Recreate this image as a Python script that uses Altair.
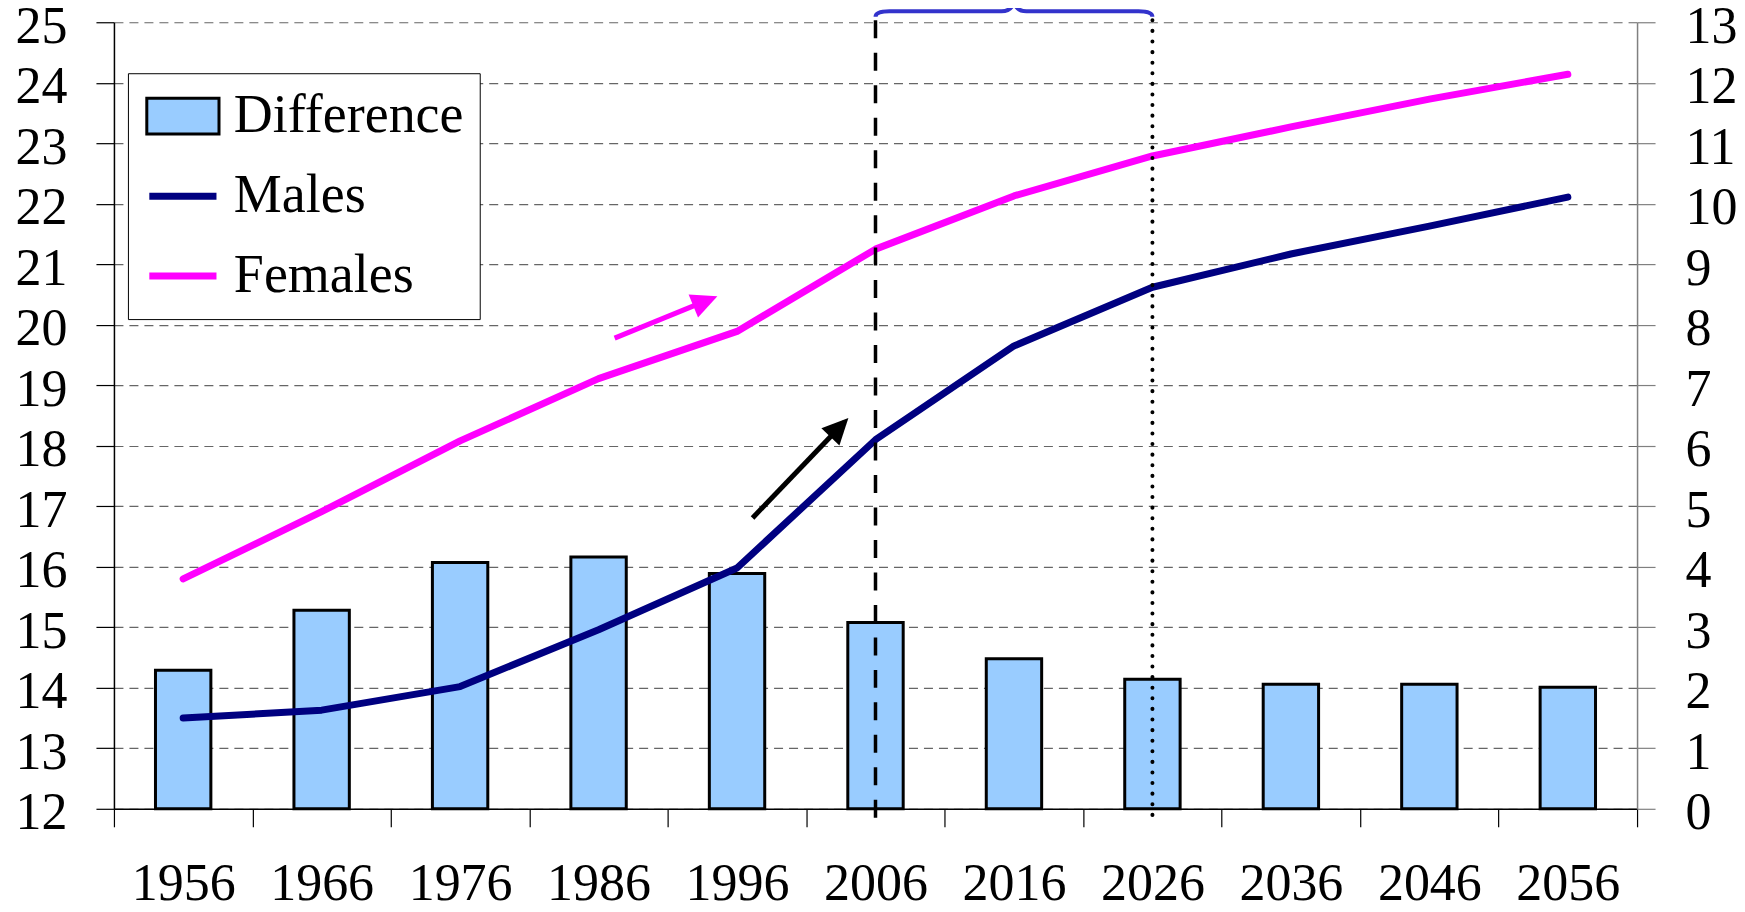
import altair as alt
import pandas as pd

years = ["1956", "1966", "1976", "1986", "1996", "2006", "2016", "2026", "2036", "2046", "2056"]
males = [13.5, 13.63, 14.02, 14.96, 15.98, 18.1, 19.65, 20.62, 21.17, 21.63, 22.11]
females = [15.8, 16.91, 18.08, 19.11, 19.89, 21.25, 22.13, 22.79, 23.27, 23.73, 24.14]
difference = [2.29, 3.28, 4.07, 4.16, 3.89, 3.08, 2.48, 2.14, 2.06, 2.06, 2.01]
series_names = ["Difference", "Males", "Females"]
marker_years = ["2006", "2026"]
brace_year = "2016"
# arrow annotations: x in category-index units, y on the left axis scale
pink_arrow_x = [3.116, 3.819]
pink_arrow_y = [19.78, 20.436]
black_arrow_x = [4.112, 4.775]
black_arrow_y = [16.807, 18.388]

FONT = "Liberation Serif"
W, H = 1524, 787
BAR_FILL = "#99ccff"
MALE_COL = "#000080"
FEMALE_COL = "#ff00ff"

df_lines = pd.DataFrame(
    {"year": years * 2,
     "series": ["Males"] * len(years) + ["Females"] * len(years),
     "value": males + females}
)
df_diff = pd.DataFrame({"year": years, "difference": difference})

# legend stroke colours: the Difference swatch gets a black outline
color_scale = alt.Scale(domain=series_names, range=["#000000", MALE_COL, FEMALE_COL])

RECT_PATH = "M-1.29,-0.64H1.29V0.64H-1.29Z"
LINE_PATH = "M-1.2,0H1.2"
is_diff = "datum.value === 'Difference'"

legend = alt.Legend(
    title=None, orient="none", legendX=14, legendY=51, direction="vertical",
    labelFont=FONT, labelFontSize=54, labelColor="black", labelLimit=0, labelOffset=24,
    symbolSize=3136, symbolOffset=12,
    symbolType=alt.ExprRef(f"{is_diff} ? '{RECT_PATH}' : '{LINE_PATH}'"),
    symbolFillColor=alt.ExprRef(f"{is_diff} ? '{BAR_FILL}' : 'transparent'"),
    symbolStrokeWidth=alt.ExprRef(f"{is_diff} ? 3 : 7"),
    symbolOpacity=1,
    padding=16, rowPadding=26, strokeColor="black", fillColor="white",
)

x_scale = alt.Scale(domain=years, paddingInner=0, paddingOuter=0)


def xband(axis=None):
    return alt.X("year:N", scale=x_scale, axis=axis, title=None)


x_axis = alt.Axis(title=None, labelAngle=0, labelFont=FONT, labelFontSize=52, labelColor="black",
                  labelPadding=32, tickBand="extent", tickSize=18, tickColor="black", tickWidth=1.2,
                  domainColor="black", domainWidth=1.5, grid=False)

left_axis = alt.Axis(title=None, orient="left", values=list(range(12, 26)), grid=True,
                     gridDash=[9, 6], gridColor="#666666", gridWidth=1.2,
                     tickSize=18, tickColor="black", tickWidth=1.2, domainColor="black", domainWidth=1.5,
                     labelFont=FONT, labelFontSize=52, labelColor="black", labelPadding=29, labelOffset=4)

right_axis = alt.Axis(title=None, orient="right", values=list(range(0, 14)), grid=False,
                      tickSize=18, tickColor="#808080", tickWidth=1.2, domainColor="#808080", domainWidth=1.5,
                      labelFont=FONT, labelFontSize=52, labelColor="black", labelPadding=30, labelOffset=4)

bars = alt.Chart(df_diff).mark_bar(
    fill=BAR_FILL, stroke="black", strokeWidth=3, width=alt.RelativeBandSize(0.4)
).encode(
    x=xband(x_axis),
    y=alt.Y("difference:Q", scale=alt.Scale(domain=[0, 13], nice=False), axis=right_axis),
)

lines = alt.Chart(df_lines).mark_line(strokeWidth=7, strokeCap="round", strokeJoin="round").encode(
    x=xband(),
    y=alt.Y("value:Q", scale=alt.Scale(domain=[12, 25], nice=False, zero=False), axis=left_axis),
    color=alt.Color("series:N", scale=color_scale, legend=legend),
)

rule_dash = alt.Chart(pd.DataFrame({"year": [marker_years[0]]})).mark_rule(
    color="black", strokeWidth=3.5, strokeDash=[18, 14.5]
).encode(x=xband(), y=alt.value(-2), y2=alt.value(800))

rule_dot = alt.Chart(pd.DataFrame({"year": [marker_years[1]]})).mark_rule(
    color="black", strokeWidth=4, strokeDash=[0.1, 10.5], strokeCap="round"
).encode(x=xband(), y=alt.value(-2), y2=alt.value(800))

BRACE_PATH = "M-1,0.04Q-1,0 -0.9,0L-0.09,0Q-0.01,0 0,-0.08Q0.01,0 0.09,0L0.9,0Q1,0 1,0.04"
brace = alt.Chart(pd.DataFrame({"year": [brace_year]})).mark_point(
    shape=BRACE_PATH, size=277 * 277, filled=False, color="#3333cc", strokeWidth=4, opacity=1
).encode(x=xband(), y=alt.value(-11))

xq = alt.Scale(domain=[-0.5, 10.5], nice=False, zero=False)
yq = alt.Scale(domain=[12, 25], nice=False, zero=False)
HEAD_PATH = "M0,-0.45L0.96,1.55L-0.96,1.55Z"


def arrow(xs, ys, col, angle):
    d = pd.DataFrame({"xi": xs, "yv": ys, "k": list(range(len(xs)))})
    shaft = alt.Chart(d).mark_line(color=col, strokeWidth=5, strokeCap="butt").encode(
        x=alt.X("xi:Q", scale=xq, axis=None), y=alt.Y("yv:Q", scale=yq, axis=None), order="k:Q")
    head = alt.Chart(d.tail(1)).mark_point(
        shape=HEAD_PATH, size=676, filled=True, color=col, angle=angle, opacity=1, strokeWidth=0
    ).encode(x=alt.X("xi:Q", scale=xq, axis=None), y=alt.Y("yv:Q", scale=yq, axis=None))
    return [shaft, head]


layers = [bars, lines] + arrow(pink_arrow_x, pink_arrow_y, FEMALE_COL, 67.8) + \
    arrow(black_arrow_x, black_arrow_y, "#000000", 43.8) + [rule_dash, rule_dot, brace]

chart = alt.layer(*layers).resolve_scale(x="independent", y="independent").properties(
    width=W, height=H,
    padding={"left": 106, "top": 14, "right": 100, "bottom": 95},
    autosize=alt.AutoSizeParams(type="none"),
    background="white",
).configure_view(strokeWidth=0)

chart.save("out.html", embed_options={"renderer": "svg", "actions": False})
